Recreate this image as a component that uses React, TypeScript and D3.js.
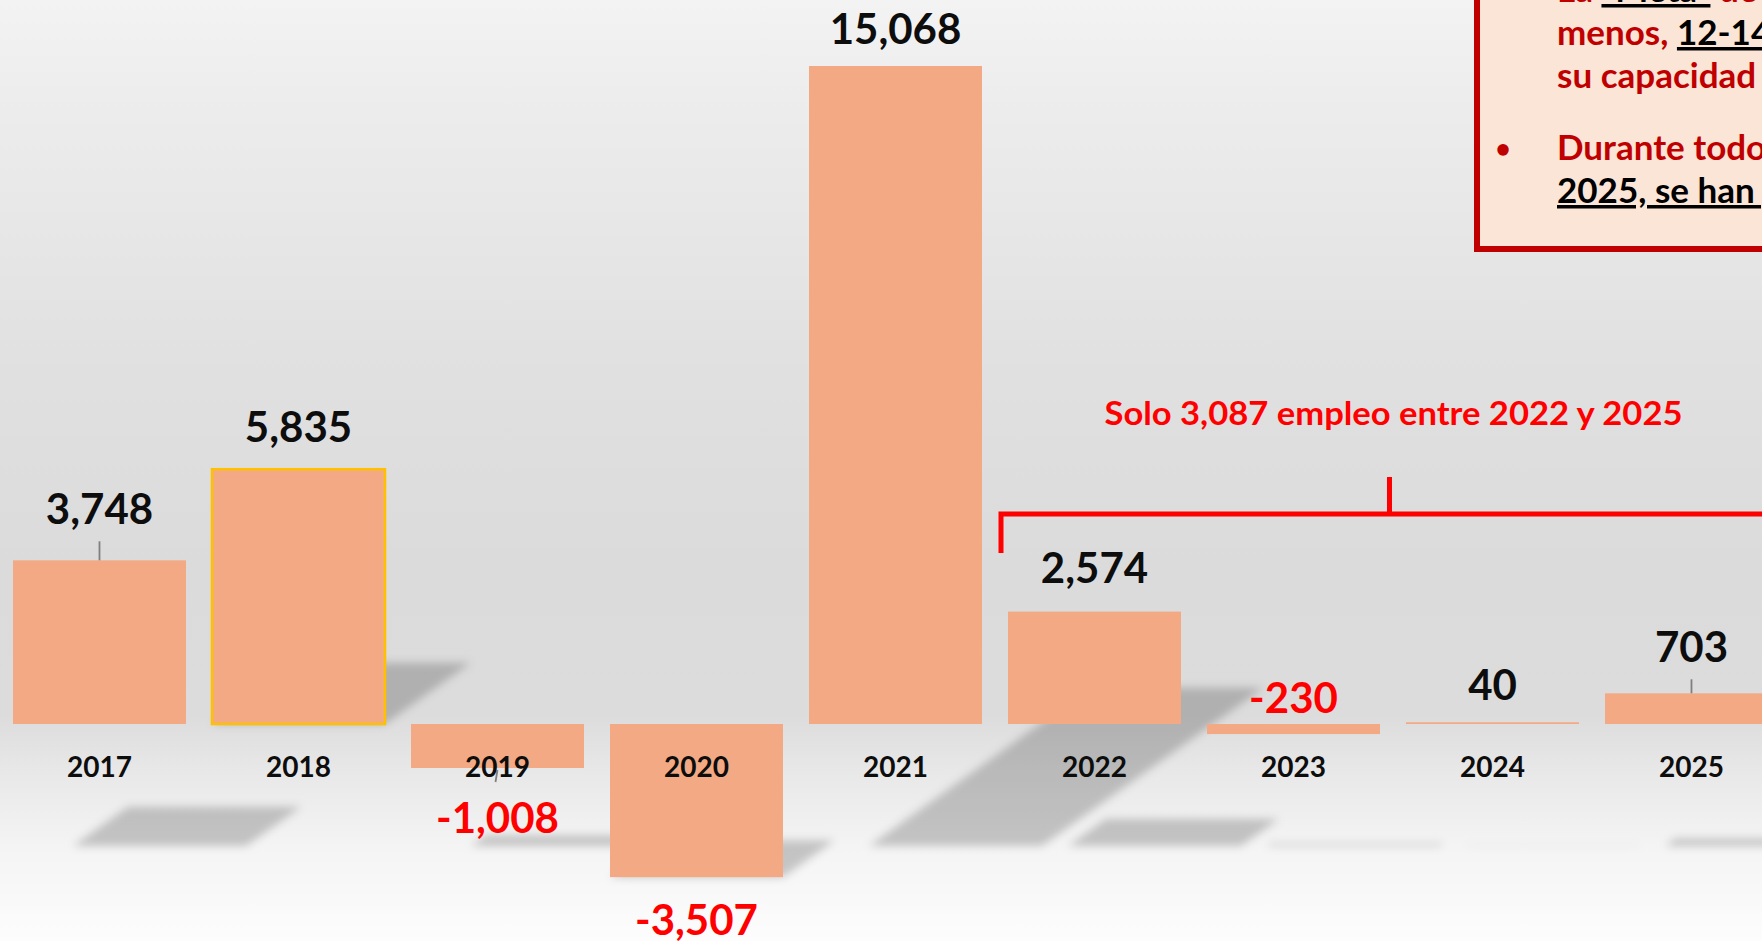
import React from 'react';
import * as d3 from 'd3';

// data
const years = ['2017', '2018', '2019', '2020', '2021', '2022', '2023', '2024', '2025'];
const empleo = [3748, 5835, -1008, -3507, 15068, 2574, -230, 40, 703];
const bracketYears = ['2022', '2025'];
const bracketLabel = 'Solo 3,087 empleo entre 2022 y 2025';

// per-bar layout tweaks (label offset from bar end, leader line, shadow anchor)
const labelDy = [-36, -27, 65, 58, -22, -29, -21, -22, -31];
const hasLeader = [true, false, true, false, false, false, false, false, true];
const shadowAnchor = ['floor', 'bar', 'floor', 'bar', 'floor', 'floor', 'floor', 'floor', 'floor'];
const highlighted = ['2018'];

const W = 1762;
const H = 941;
const FONT = 'Lato, "Open Sans", sans-serif';
const BAR = '#f3aa84';

const x = d3.scaleBand<string>()
  .domain(years)
  .range([13, 13 + 199 * (years.length - 0.1307)])
  .paddingInner(0.1307)
  .paddingOuter(0);

const y = d3.scaleLinear()
  .domain([0, 15068])
  .range([724, 66]);

const fmt = d3.formatLocale({
  decimal: '.', thousands: ',', grouping: [3], currency: ['$', ''], minus: '-'
}).format(',');

const App: React.FC = () => {
  const bw = x.bandwidth();
  const y0 = y(0);

  // perspective-like shadows
  const shadowK = 0.0105;
  const shadows = years.map((yr, i) => {
    const v = empleo[i];
    const h = shadowK * Math.abs(v);
    const s = 1.4 * h;
    let bx = x(yr)!;
    let by = Math.max(y(v), y0);
    if (shadowAnchor[i] === 'floor') {
      bx += 60;
      by = 846;
    }
    const pts = [
      [bx, by], [bx + bw, by], [bx + bw + s, by - h], [bx + s, by - h]
    ];
    return pts.map(p => p.join(',')).join(' ');
  });

  const bl = x(bracketYears[0])! - 7;
  const br = x(bracketYears[1])! + bw;
  const bm = (bl + br) / 2;

  return (
    <svg width={W} height={H} style={{ position: 'absolute', left: 0, top: 0, overflow: 'hidden' }}>
      <defs>
        <linearGradient id="bg" x1="0" y1="0" x2="0" y2="1">
          <stop offset="0" stopColor="#f3f3f3" />
          <stop offset="0.12" stopColor="#ececec" />
          <stop offset="0.4" stopColor="#e0e0e0" />
          <stop offset="0.6" stopColor="#dbdbdb" />
          <stop offset="0.76" stopColor="#dcdcdc" />
          <stop offset="0.82" stopColor="#e8e8e8" />
          <stop offset="0.9" stopColor="#f4f4f4" />
          <stop offset="1" stopColor="#fdfdfd" />
        </linearGradient>
        <filter id="blur" x="-20%" y="-50%" width="140%" height="200%">
          <feGaussianBlur stdDeviation="4" />
        </filter>
      </defs>
      <rect x={0} y={0} width={W} height={H} fill="url(#bg)" />

      <g filter="url(#blur)">
        {shadows.map((p, i) => (
          <polygon key={years[i]} points={p} fill="rgba(0,0,0,0.2)" />
        ))}
      </g>

      {years.map((yr, i) => {
        const v = empleo[i];
        const hl = highlighted.includes(yr);
        return (
          <rect
            key={yr}
            x={x(yr)}
            y={Math.min(y(v), y0)}
            width={bw}
            height={Math.max(1.5, Math.abs(y(v) - y0))}
            fill={BAR}
            stroke={hl ? '#ffc000' : 'none'}
            strokeWidth={hl ? 2.5 : 0}
          />
        );
      })}

      {years.map((yr, i) => {
        if (!hasLeader[i]) return null;
        const v = empleo[i];
        const cx = x(yr)! + bw / 2;
        const end = y(v);
        const y1 = v >= 0 ? end + labelDy[i] + 17 : end + 2;
        const y2 = v >= 0 ? end : end + 14;
        return <line key={yr} x1={cx} x2={v >= 0 ? cx : cx - 2} y1={y1} y2={y2} stroke="#7f7f7f" strokeWidth={1.8} />;
      })}

      {years.map((yr, i) => {
        const v = empleo[i];
        return (
          <text
            key={yr}
            x={x(yr)! + bw / 2}
            y={y(v) + labelDy[i]}
            textAnchor="middle"
            fontFamily={FONT}
            fontWeight={700}
            fontSize={42}
            fill={v < 0 ? '#ff0000' : '#0d0d0d'}
          >
            {fmt(v)}
          </text>
        );
      })}

      {years.map(yr => (
        <text
          key={yr}
          x={x(yr)! + bw / 2}
          y={777}
          textAnchor="middle"
          fontFamily={FONT}
          fontWeight={700}
          fontSize={28}
          fill="#0d0d0d"
        >
          {yr}
        </text>
      ))}

      <path
        d={`M${bl},553 V514 H${br + 20} M${bm},514 V477`}
        fill="none"
        stroke="#ff0000"
        strokeWidth={5}
      />
      <text
        x={bm + 4}
        y={425}
        textAnchor="middle"
        fontFamily={FONT}
        fontWeight={700}
        fontSize={32}
        fill="#ff0000"
        textLength={578}
        lengthAdjust="spacingAndGlyphs"
      >
        {bracketLabel}
      </text>

      <rect x={1477} y={-10} width={400} height={259} fill="#fbe5d6" stroke="#c00000" strokeWidth={6} />
      <g fontFamily={FONT} fontWeight={700} fontSize={35} fill="#c00000">
        <text x={1557} y={2}>
          La <tspan fill="#000" textDecoration="underline">"Meta"</tspan> de al
        </text>
        <text x={1557} y={45}>
          menos, <tspan fill="#000" textDecoration="underline">12-14 mil</tspan>
        </text>
        <text x={1557} y={88}>su capacidad de</text>
        <text x={1503} y={158} textAnchor="middle" fontSize={26}>•</text>
        <text x={1557} y={160}>Durante todo el</text>
        <text x={1557} y={203}>
          <tspan fill="#000" textDecoration="underline">2025, se han generado</tspan>
        </text>
      </g>
    </svg>
  );
};

export default App;
